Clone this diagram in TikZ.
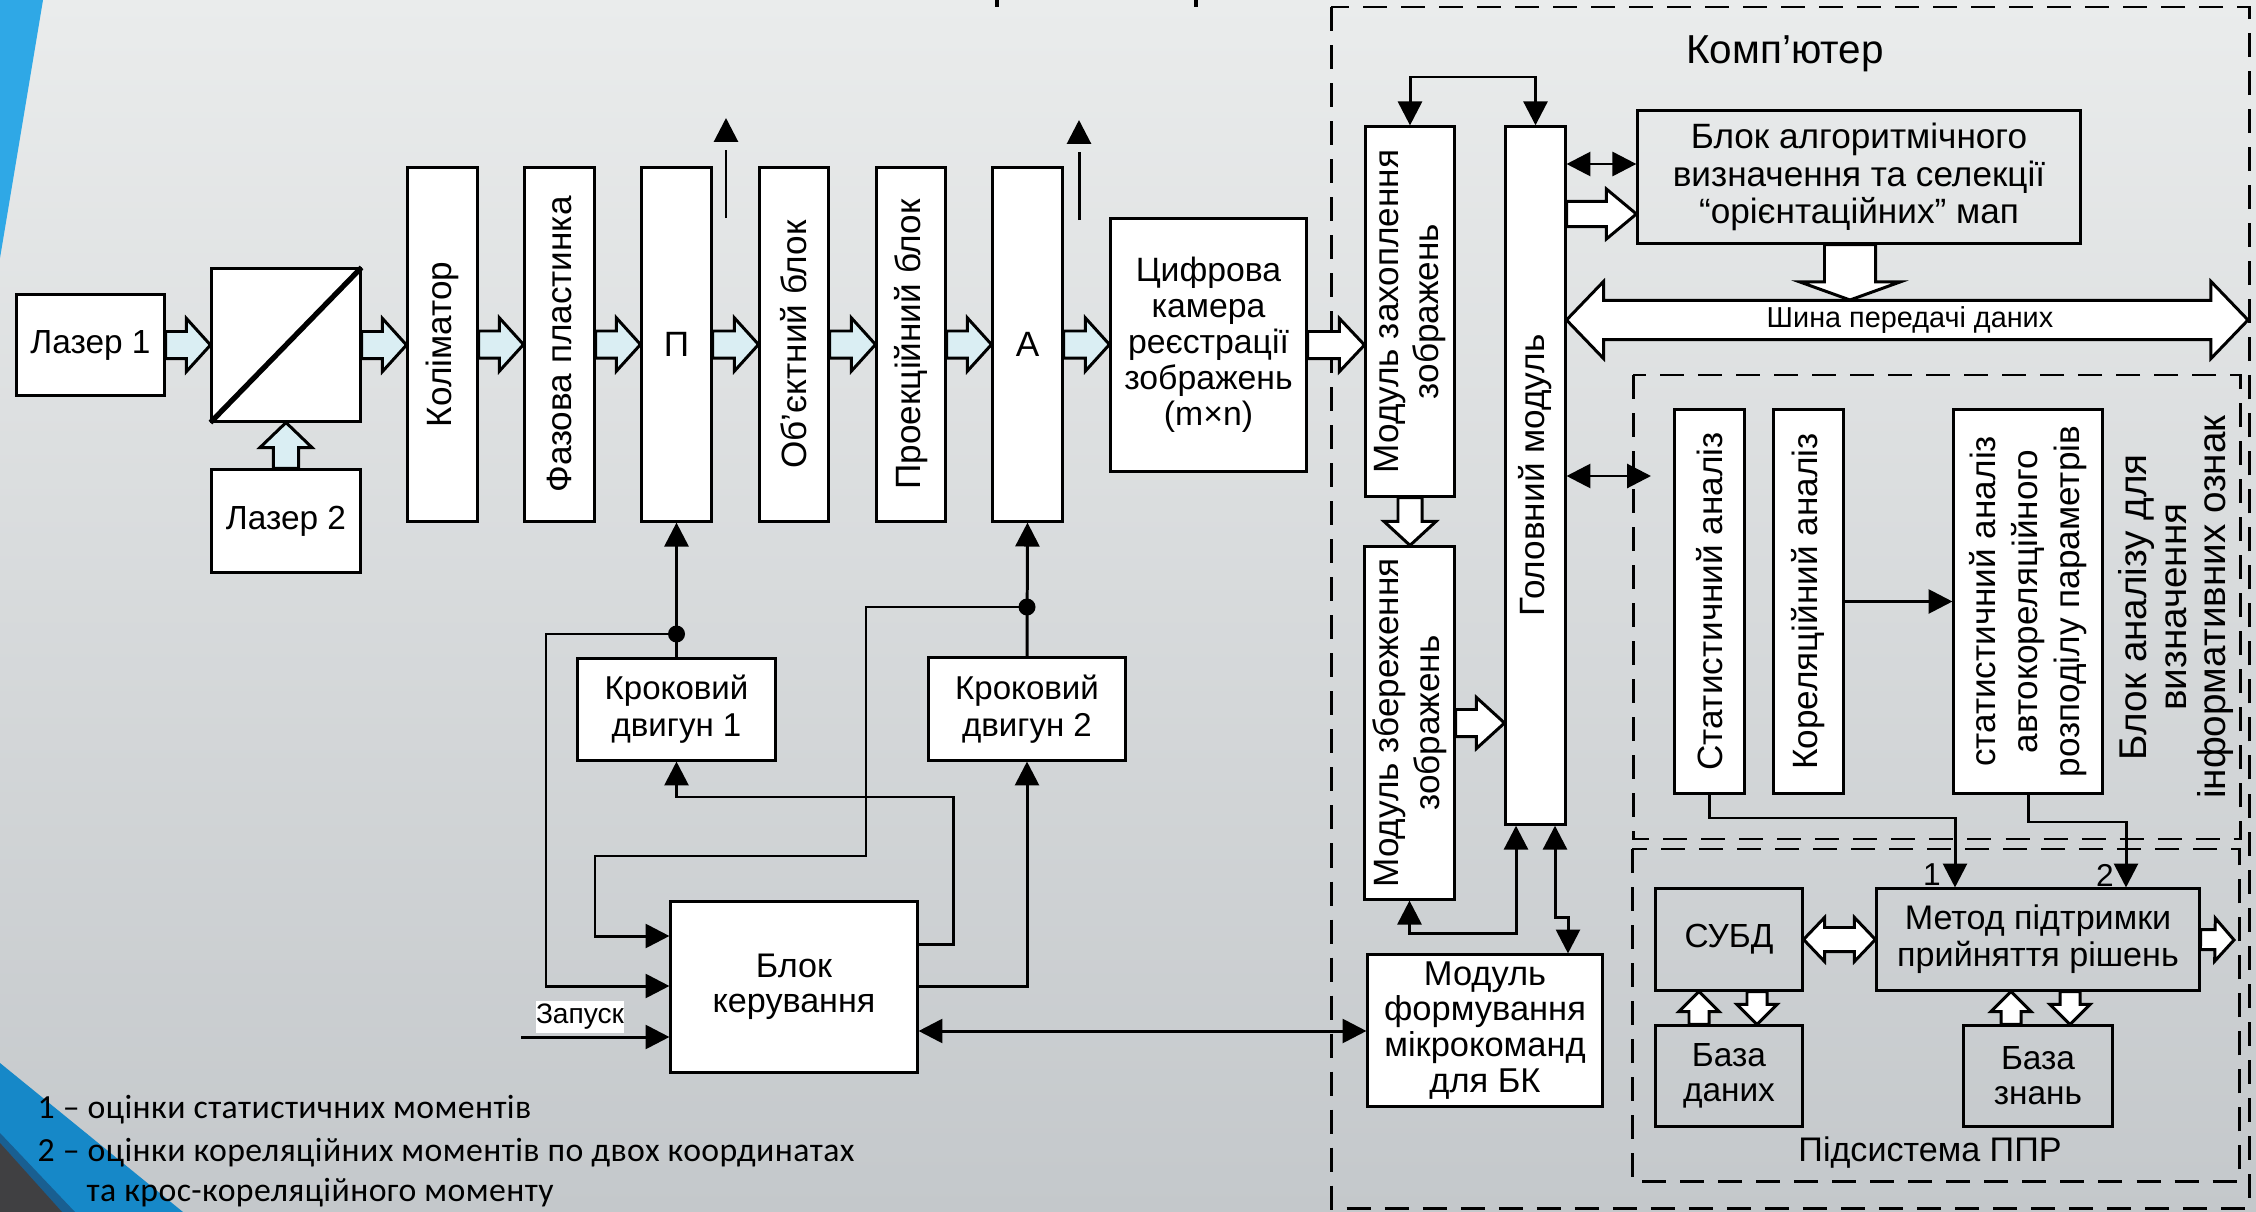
\documentclass[tikz,border=0pt]{standalone}
\usepackage{fontspec}
\setmainfont{Liberation Sans}
\newfontfamily\legendfont[LetterSpace=1.2]{Carlito}
\usetikzlibrary{arrows.meta,calc}

\definecolor{lb}{RGB}{218,238,243}
\definecolor{bgtop}{RGB}{234,236,236}
\definecolor{bgbot}{RGB}{196,200,203}
\definecolor{skyband}{RGB}{47,168,230}
\definecolor{deepband}{RGB}{22,136,200}
\definecolor{shadowband}{RGB}{25,95,145}
\definecolor{cornergray}{RGB}{64,64,66}

\newcommand{\myfs}[2]{\fontsize{#1}{#2}\selectfont}

% single block arrow: [fill]{start}{end}{shaft half}{head half}{head length}
\newcommand{\blockarr}[6][lb]{%
  \coordinate (ba) at #2; \coordinate (bb) at #3;
  \coordinate (bc) at ($(bb)!#6!(ba)$);
  \filldraw[fill=#1, line width=0.85pt, line join=miter]
   ($(ba)!#4!90:(bb)$) -- ($(bc)!#4!-90:(ba)$) -- ($(bc)!#5!-90:(ba)$) -- (bb)
   -- ($(bc)!#5!90:(ba)$) -- ($(bc)!#4!90:(ba)$) -- ($(ba)!#4!-90:(bb)$) -- cycle;}
% double block arrow
\newcommand{\dblockarr}[6][white]{%
  \coordinate (ba) at #2; \coordinate (bb) at #3;
  \coordinate (bc) at ($(bb)!#6!(ba)$); \coordinate (bd) at ($(ba)!#6!(bb)$);
  \filldraw[fill=#1, line width=0.85pt, line join=miter]
   (ba) -- ($(bd)!#5!90:(bb)$) -- ($(bd)!#4!90:(bb)$) -- ($(bc)!#4!-90:(ba)$)
   -- ($(bc)!#5!-90:(ba)$) -- (bb) -- ($(bc)!#5!90:(ba)$) -- ($(bc)!#4!90:(ba)$)
   -- ($(bd)!#4!-90:(bb)$) -- ($(bd)!#5!-90:(bb)$) -- cycle;}

\begin{document}
\begin{tikzpicture}[x=0.01cm,y=-0.01cm,
  >={Triangle[length=6.8pt,width=6.8pt]},
  ln/.style={line width=0.85pt},
  box/.style={draw, line width=0.85pt, fill=white, inner sep=0pt, align=center},
  obox/.style={draw, line width=0.85pt, inner sep=0pt, align=center},
  dbox/.style={draw, line width=0.85pt, dash pattern=on 0.24cm off 0.14cm},
  txt/.style={inner sep=0pt, align=center},
  rtxt/.style={inner sep=0pt, align=center, rotate=90},
  updash/.style={ln, dash pattern=on 0.68cm off 0.08cm, ->},
]
% background
\shade[top color=bgtop, bottom color=bgbot] (0,0) rectangle (2256,1212);
\useasboundingbox (0,0) rectangle (2256,1212);
\fill[skyband] (0,0) -- (43,0) -- (0,258) -- cycle;
\fill[deepband] (0,1063) -- (183,1212) -- (0,1212) -- cycle;
\fill[shadowband] (0,1133) -- (75,1212) -- (0,1212) -- cycle;
\fill[cornergray] (0,1143) -- (62,1212) -- (0,1212) -- cycle;
% fragments of the cut title
\fill (995,0) rectangle (999,7);
\fill (1194,0) rectangle (1198,7);

% dashed frames
\draw[dbox] (1331,7) rectangle (2249,1208);
\draw[dbox] (1633,375) rectangle (2240,839);
\draw[dbox] (1632,849) rectangle (2239,1181);

% optical path
\node[box, minimum width=1.47cm, minimum height=1cm, font=\myfs{9.5}{11}] (laser1) at (90.5,345) {Лазер 1};
\node[box, minimum width=1.48cm, minimum height=1.52cm] (split) at (286,345) {};
\draw[line width=1.5pt] (split.south west) -- (split.north east);
\node[box, minimum width=1.48cm, minimum height=1.02cm, font=\myfs{9.5}{11}] (laser2) at (286,521) {Лазер 2};

\node[box, minimum width=0.69cm, minimum height=3.53cm] (kolim) at (442.5,344.5) {};
\node[rtxt, font=\myfs{10}{12}] (kolimT) at (kolim) {Коліматор};
\node[box, minimum width=0.69cm, minimum height=3.53cm] (faz) at (559.5,344.5) {};
\node[rtxt, font=\myfs{10}{12}] (fazT) at (faz) {Фазова пластинка};
\node[box, minimum width=0.69cm, minimum height=3.53cm, font=\myfs{10}{12}] (P) at (676.5,344.5) {П};
\node[box, minimum width=0.68cm, minimum height=3.53cm] (obj) at (794,344.5) {};
\node[rtxt, font=\myfs{10}{12}] (objT) at (obj) {Об’єктний блок};
\node[box, minimum width=0.68cm, minimum height=3.53cm] (proj) at (911,344.5) {};
\node[rtxt, font=\myfs{10}{12}] (projT) at (proj) {Проекційний блок};
\node[box, minimum width=0.69cm, minimum height=3.53cm, font=\myfs{10}{12}] (A) at (1027.5,344.5) {А};
\node[box, minimum width=1.95cm, minimum height=2.52cm, font=\myfs{9.6}{10.2}] (camera) at (1208.5,345)
  {Цифрова\\камера\\реєстрації\\зображень\\(m×n)};

\blockarr{(laser1.east)}{(split.west)}{0.135cm}{0.265cm}{0.24cm}
\blockarr{(laser2.north)}{(split.south)}{0.125cm}{0.26cm}{0.25cm}
\blockarr{(split.east)}{(kolim.west |- split.east)}{0.135cm}{0.265cm}{0.24cm}
\blockarr{(kolim.east)}{(faz.west)}{0.135cm}{0.265cm}{0.24cm}
\blockarr{(faz.east)}{(P.west)}{0.135cm}{0.265cm}{0.24cm}
\blockarr{(P.east)}{(obj.west)}{0.135cm}{0.265cm}{0.24cm}
\blockarr{(obj.east)}{(proj.west)}{0.135cm}{0.265cm}{0.24cm}
\blockarr{(proj.east)}{(A.west)}{0.135cm}{0.265cm}{0.24cm}
\blockarr{(A.east)}{(camera.west |- A.east)}{0.135cm}{0.265cm}{0.24cm}

% dashed up arrows
\coordinate (up1s) at (726,218); \coordinate (up1e) at (726,118);
\coordinate (up2s) at (1079,220); \coordinate (up2e) at (1079,120);
\draw[updash] (up1s) -- (up1e);
\draw[updash] (up2s) -- (up2e);

% motors and control
\node[box, minimum width=1.97cm, minimum height=1.01cm, font=\myfs{9.4}{10.6}] (krok1) at (676.5,709.5) {Кроковий\\двигун 1};
\node[box, minimum width=1.96cm, minimum height=1.02cm, font=\myfs{9.4}{10.6}] (krok2) at (1027,709) {Кроковий\\двигун 2};
\node[box, minimum width=2.46cm, minimum height=1.70cm, font=\myfs{9.7}{10}] (bk) at (794,987) {Блок\\керування};

\coordinate (d1) at (676.5,634);
\coordinate (d2) at (1027,607);
\draw[ln,->] (krok1.north) -- (P.south);
\fill (d1) circle (0.085cm);
\draw[ln,->] (d1) -- (546,634) -- (546,986) -- (bk.west |- 0,986);
\draw[ln,->] (krok2.north) -- (A.south);
\fill (d2) circle (0.085cm);
\draw[ln,->] (d2) -- (866,607) -- (866,856) -- (595,856) -- (595,936) -- (bk.west |- 0,936);
\draw[ln,->] (bk.east |- 0,944) -- (953,944) -- (953,797) -- (krok1.south |- 0,797) -- (krok1.south);
\draw[ln,->] (bk.east |- 0,986) -- (krok2.south |- 0,986) -- (krok2.south);
\coordinate (zapS) at (521,1037);
\draw[ln,->] (zapS) -- (bk.west |- zapS);
\node[fill=white, inner sep=0pt, minimum width=0.86cm, minimum height=0.32cm, font=\myfs{8}{9}] (zap) at (580,1017) {Запуск};

% computer
\node[txt, font=\myfs{11.5}{13}] (compT) at (1785,54) {Комп’ютер};
\node[box, minimum width=0.88cm, minimum height=3.69cm] (zakh) at (1410,311.5) {};
\node[rtxt, font=\myfs{10}{11.2}] (zakhT) at (zakh) {Модуль захоплення\\зображень};
\node[box, minimum width=0.89cm, minimum height=3.52cm] (zber) at (1409.5,723) {};
\node[rtxt, font=\myfs{10}{11.6}] (zberT) at (zber) {Модуль збереження\\зображень};
\node[box, minimum width=0.59cm, minimum height=6.97cm] (golov) at (1535.5,475.5) {};
\node[rtxt, font=\myfs{10}{12}] (golovT) at (golov) {Головний модуль};
\node[obox, minimum width=4.42cm, minimum height=1.32cm, font=\myfs{10}{10.7}] (algo) at (1859,177)
  {Блок алгоритмічного\\визначення та селекції\\“орієнтаційних” мап};
\node[box, minimum width=2.34cm, minimum height=1.51cm, font=\myfs{9.8}{10.2}] (mform) at (1485,1030.5)
  {Модуль\\формування\\мікрокоманд\\для БК};

\blockarr[white]{(camera.east)}{(zakh.west |- camera.east)}{0.135cm}{0.265cm}{0.25cm}
\blockarr[white]{(zakh.south)}{(zakh.south |- zber.north)}{0.12cm}{0.26cm}{0.24cm}
\blockarr[white]{(zber.east)}{(golov.west |- zber.east)}{0.135cm}{0.255cm}{0.28cm}
\blockarr[white]{(golov.east |- 0,214)}{(algo.west |- 0,214)}{0.125cm}{0.25cm}{0.30cm}
\coordinate (bustop) at (1850,300);
\blockarr[white]{(algo.south -| bustop)}{(bustop)}{0.255cm}{0.50cm}{0.18cm}
\coordinate (busR) at (2248,320);
\dblockarr[white]{(golov.east |- busR)}{(busR)}{0.195cm}{0.385cm}{0.37cm}
\node[txt, font=\myfs{8.2}{10}] (busT) at (1910,320) {Шина передачі даних};

\draw[ln,<->] (zakh.north) -- (zakh.north |- 0,77) -- (golov.north |- 0,77) -- (golov.north);
\draw[ln,<->] (golov.east |- 0,164) -- (algo.west |- 0,164);
\coordinate (anL) at (1651,476);
\draw[ln,<->] (golov.east |- anL) -- (anL);
\draw[ln,<->] (zber.south) -- (zber.south |- 0,933) -- (1516,933) -- (golov.south -| 1516,0);
\draw[ln,<->] (golov.south -| 1555,0) -- (1555,917) -- (1568,917) -- (mform.north -| 1568,0);
\draw[ln,<->] (bk.east |- 0,1031) -- (mform.west |- 0,1031);

% analysis block
\node[box, minimum width=0.69cm, minimum height=3.83cm] (stat) at (1709.5,601.5) {};
\node[rtxt, font=\myfs{10}{12}] (statT) at (stat) {Статистичний аналіз};
\node[box, minimum width=0.69cm, minimum height=3.83cm] (korel) at (1808.5,601.5) {};
\node[rtxt, font=\myfs{10}{12}] (korelT) at (korel) {Кореляційний аналіз};
\node[box, minimum width=1.48cm, minimum height=3.83cm] (avto) at (2028,601.5) {};
\node[rtxt, font=\myfs{10}{12}] (avtoT) at (avto) {статистичний аналіз\\автокореляційного\\розподілу параметрів};
\node[rtxt, font=\myfs{11}{11.2}] (anT) at (2176,607) {Блок аналізу для\\визначення\\інформативних ознак};
\draw[ln,->] (korel.east) -- (avto.west);

% PPR subsystem
\node[obox, minimum width=1.46cm, minimum height=1.01cm, font=\myfs{9.5}{11}] (subd) at (1729,939.5) {СУБД};
\node[obox, minimum width=3.22cm, minimum height=1.01cm, font=\myfs{9.7}{10.5}] (metod) at (2038,939.5) {Метод підтримки\\прийняття рішень};
\node[obox, minimum width=1.46cm, minimum height=1.00cm, font=\myfs{9.5}{10}] (bdan) at (1729,1076) {База\\даних};
\node[obox, minimum width=1.48cm, minimum height=1.00cm, font=\myfs{9.5}{10}] (bzn) at (2038,1076) {База\\знань};
\node[txt, font=\myfs{9.7}{11}] (pprT) at (1930,1153) {Підсистема ППР};

\draw[ln,->] (stat.south) |- (1955,818) -- (metod.north -| 1955,0);
\draw[ln,->] (avto.south) |- (2126,822) -- (metod.north -| 2126,0);
\node[txt, font=\myfs{9}{10}] (n1) at (1932,875) {1};
\node[txt, font=\myfs{9}{10}] (n2) at (2105,875) {2};

\dblockarr[white]{(subd.east)}{(metod.west)}{0.12cm}{0.22cm}{0.21cm}
\coordinate (pprout) at (2234,940);
\blockarr[white]{(metod.east)}{(pprout)}{0.10cm}{0.215cm}{0.19cm}
\blockarr[white]{(bdan.north -| 1699,0)}{(subd.south -| 1699,0)}{0.10cm}{0.20cm}{0.20cm}
\blockarr[white]{(subd.south -| 1757,0)}{(bdan.north -| 1757,0)}{0.10cm}{0.20cm}{0.20cm}
\blockarr[white]{(bzn.north -| 2011,0)}{(metod.south -| 2011,0)}{0.10cm}{0.20cm}{0.20cm}
\blockarr[white]{(metod.south -| 2070,0)}{(bzn.north -| 2070,0)}{0.10cm}{0.20cm}{0.20cm}

% legend
\node[anchor=west, inner sep=0pt, font=\legendfont\myfs{9.6}{11}] (leg1) at (37,1110) {1 – оцінки статистичних моментів};
\node[anchor=west, inner sep=0pt, font=\legendfont\myfs{9.6}{11}] (leg2) at (37,1153) {2 – оцінки кореляційних моментів по двох координатах};
\node[anchor=west, inner sep=0pt, font=\legendfont\myfs{9.6}{11}] (leg3) at (86,1193) {та крос-кореляційного моменту};
\end{tikzpicture}
\end{document}
